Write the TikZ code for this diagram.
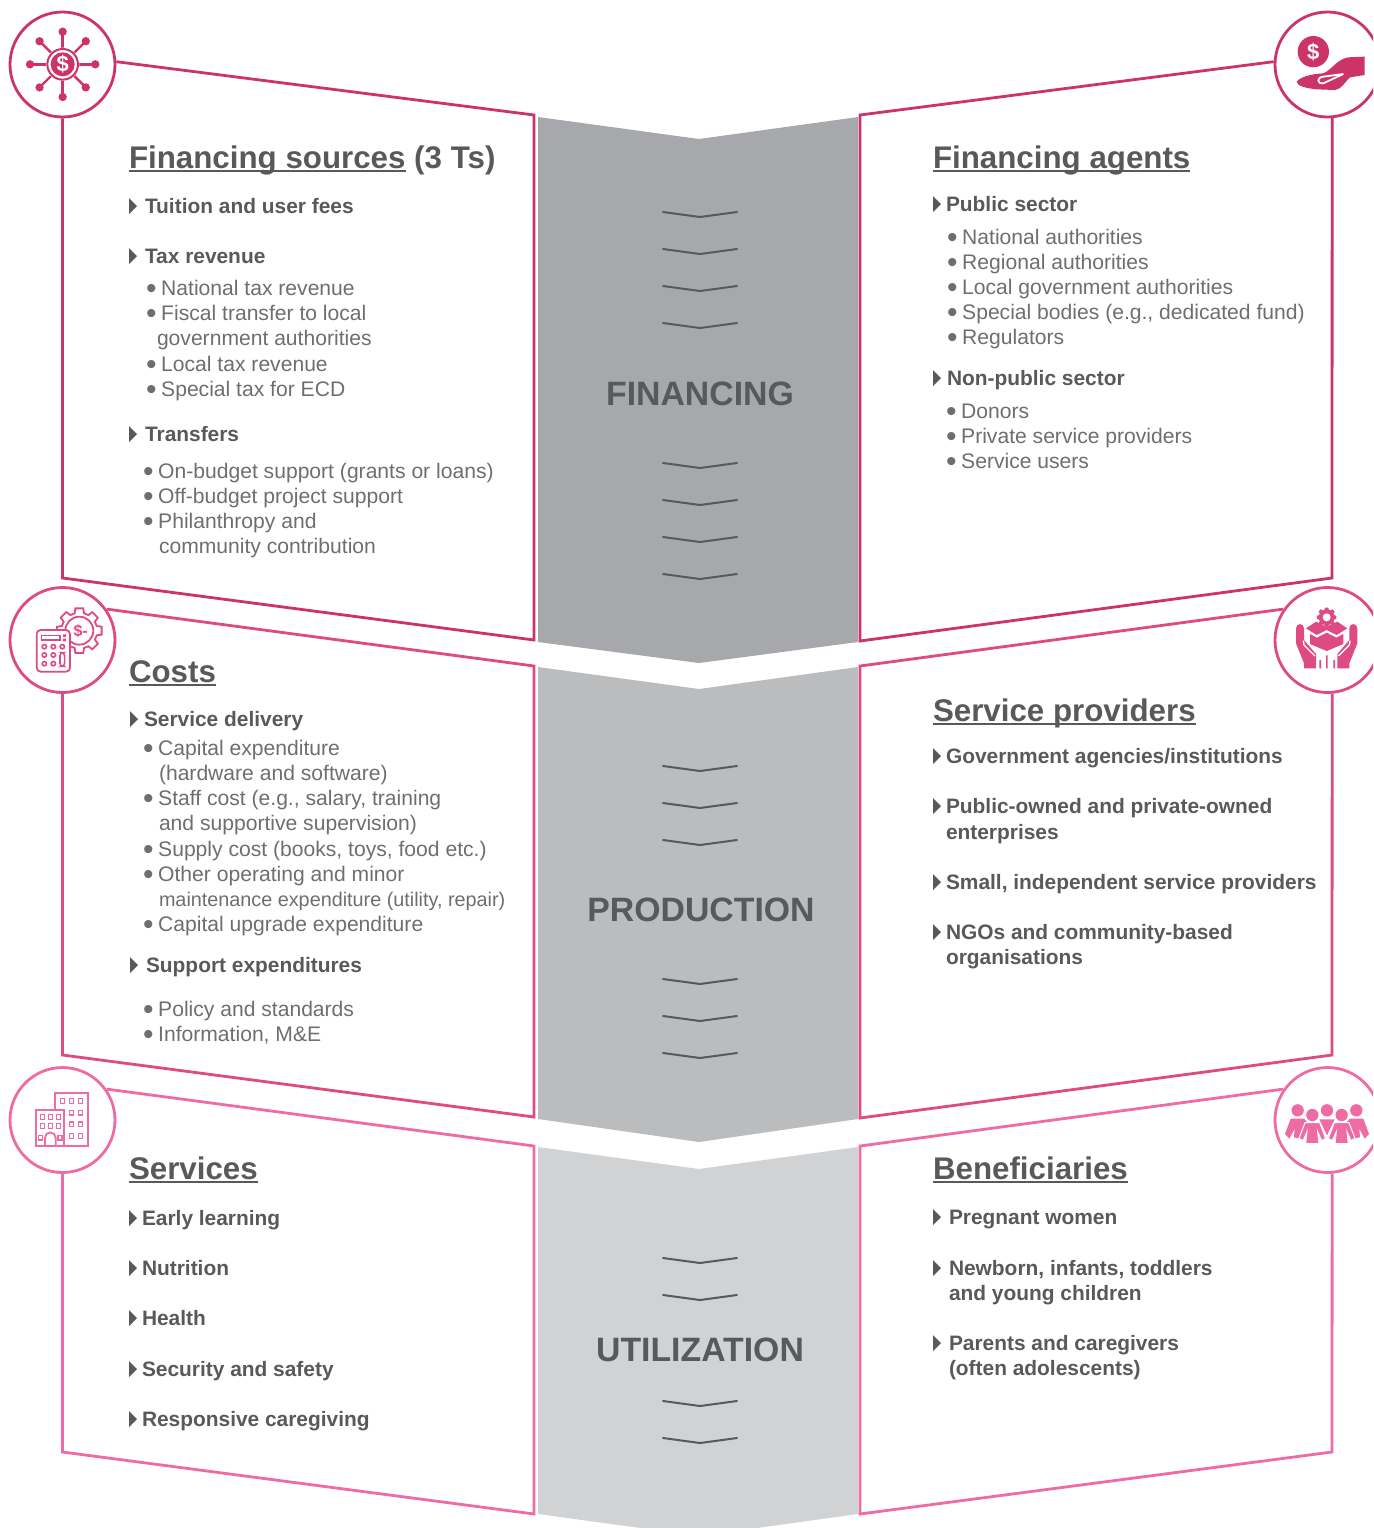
\documentclass[tikz,border=0pt]{standalone}
\usepackage{fontspec}
\setmainfont{Liberation Sans}
\usetikzlibrary{positioning}

\definecolor{pinka}{HTML}{CC3366}
\definecolor{pinkb}{HTML}{DE4A82}
\definecolor{pinkc}{HTML}{EE6CA3}
\definecolor{banda}{HTML}{A7A8AB}
\definecolor{bandb}{HTML}{BBBCBE}
\definecolor{bandc}{HTML}{D1D2D4}
\definecolor{headgray}{HTML}{58595B}
\definecolor{bodygray}{HTML}{6D6E71}

\newcommand{\bul}{\makebox[7.6pt][l]{\raisebox{-1.7pt}[0pt][0pt]{\fontsize{15}{15}\selectfont •}}}
\newcommand{\uln}[1]{\setbox0\hbox{#1}\rlap{\rule[-2.2pt]{\wd0}{1pt}}\box0\relax}

\tikzset{
  txt/.style={anchor=base west,inner sep=0pt,outer sep=0pt},
  title/.style={txt,font=\fontsize{15.65}{18}\selectfont\bfseries,text=headgray},
  lead/.style={txt,font=\fontsize{10.45}{13}\selectfont\bfseries,text=headgray},
  body/.style={txt,font=\fontsize{10.55}{13}\selectfont,text=bodygray},
  bandname/.style={inner sep=0pt,anchor=base,font=\fontsize{16.9}{20}\selectfont\bfseries,text=headgray},
  ring/.style={draw,circle,fill=white,line width=1.4pt,minimum size=52.5pt,inner sep=0pt},
  panel/.style={line width=1.4pt,line join=miter},
  chev/.style={draw=headgray,line width=1pt,line cap=round},
  pics/cogwheel/.style={code={
    \path[pic actions] (-15:54) \foreach \a in {0,45,...,315}{
      -- (\a-15:54) -- (\a-10:68) -- (\a+10:68) -- (\a+15:54)} -- cycle;
  }},
  pics/palm/.style={code={
    \path[pic actions] (108,145) .. controls (108,128) and (132,128) .. (132,145) -- (132,180)
      -- (168,222) -- (168,265) -- (132,265) -- (132,250) -- (108,190) -- cycle;
  }},
}

\begin{document}
\begin{tikzpicture}[x=.5pt,y=-.5pt]

\path[use as bounding box,clip] (0,0) rectangle (1373,1528);

\fill[banda] (538,117) -- (699,139) -- (858,117) -- (858,642) -- (699,663) -- (538,642) -- cycle;
\fill[bandb] (538,667) -- (699,689) -- (858,667) -- (858,1119) -- (699,1142) -- (538,1119) -- cycle;
\fill[bandc] (538,1147) -- (699,1169) -- (858,1147) -- (858,1514) -- (699,1536) -- (538,1514) -- cycle;

\foreach \y in {212,249,286,323,463,500,537,574,766,803,840,979,1016,1053,1258,1295,1401,1438}
  \draw[chev] (663,\y) -- (700,\y+5) -- (737,\y);

\node[bandname] (financing) at (700,405) {FINANCING};
\node[bandname] (production) at (701,921) {PRODUCTION};
\node[bandname] (utilization) at (700,1361) {UTILIZATION};

\node[ring,draw=pinka] (sourcesicon) at (62.5,64.5) {};
\node[ring,draw=pinka] (agentsicon) at (1327.5,64.5) {};
\node[ring,draw=pinkb] (costsicon) at (62.5,640) {};
\node[ring,draw=pinkb] (providersicon) at (1327.5,640) {};
\node[ring,draw=pinkc] (servicesicon) at (62.5,1120) {};
\node[ring,draw=pinkc] (beneficiariesicon) at (1327.5,1120) {};

\draw[panel,draw=pinka] (sourcesicon.south) -- (62.5,578) -- (534,640) -- (534,115) -- (sourcesicon.3);
\draw[panel,draw=pinka] (agentsicon.-85) -- (1332,578) -- (860,641) -- (860,115) -- (agentsicon.177);
\draw[panel,draw=pinkb] (costsicon.south) -- (62.5,1055) -- (534,1117) -- (534,666) -- (costsicon.35);
\draw[panel,draw=pinkb] (providersicon.-85) -- (1332,1055) -- (860,1118) -- (860,666) -- (providersicon.145);
\draw[panel,draw=pinkc] (servicesicon.south) -- (62.5,1452) -- (534,1514) -- (534,1146) -- (servicesicon.35);
\draw[panel,draw=pinkc] (beneficiariesicon.-85) -- (1332,1452) -- (860,1514) -- (860,1146) -- (beneficiariesicon.145);

\begin{scope}[shift={(0,0)},scale=.3333]
\foreach \a in {0,45,...,315} {
  \draw[pinka,line width=1.2pt] (188,193) -- ++(\a:98);
  \fill[pinka] (188,193) ++(\a:98) circle (12.5);
}
\fill[white] (188,193) circle (50);
\draw[pinka,line width=1pt] (188,193) circle (46);
\fill[pinka] (188,193) circle (36);
\node[inner sep=0pt,text=white,font=\fontsize{11}{11}\selectfont\bfseries] (sourcesdollar) at (188,193) {\$};
\end{scope}

\begin{scope}[shift={(1260,0)},scale=.3333]
\fill[pinka] (160,155) circle (47);
\node[inner sep=0pt,text=white,font=\fontsize{11}{11}\selectfont\bfseries] (agentsdollar) at (160,155) {\$};
\fill[pinka] (110,245) .. controls (120,232) and (150,222) .. (190,220) .. controls (215,210) and (230,178) .. (265,172)
  -- (314,170) -- (314,225) -- (270,232) .. controls (255,245) and (245,268) .. (225,270)
  -- (170,268) .. controls (140,265) and (110,258) .. (110,245) -- cycle;
\draw[white,line width=.9pt] (250,222) -- (190,250) .. controls (170,252) and (170,232) .. (190,230) -- (250,222);
\end{scope}

\begin{scope}[shift={(0,580)},scale=.3333]
\pic[transform shape,draw=pinkb,line width=.9pt,fill=white] at (238,152) {cogwheel};
\draw[pinkb,line width=.9pt] (238,152) circle (42);
\node[inner sep=0pt,text=pinkb,font=\fontsize{8}{8}\selectfont\bfseries] (costsdollar) at (242,152) {\$-};
\draw[pinkb,line width=.9pt,fill=white,rounded corners=2pt] (110,150) rectangle (210,275);
\draw[pinkb,line width=.8pt] (125,166) rectangle (180,180);
\fill[pinkb] (189,163) rectangle (198,171) (189,176) rectangle (198,184);
\foreach \x/\y in {133/200,160/200,187/200,133/225,160/225,133/251,160/251}
  \draw[pinkb,line width=.8pt] (\x,\y) circle (6.5);
\draw[pinkb,line width=.8pt,rounded corners=1.5pt] (180,218) rectangle (194,259);
\end{scope}

\begin{scope}[shift={(1260,580)},scale=.3333]
\pic[transform shape,fill=pinkb,scale=.44] at (200,112) {cogwheel};
\fill[white] (200,112) circle (12);
\fill[pinkb] (138,145) -- (168,125) -- (200,140) -- (232,125) -- (262,145) -- (230,165) -- (200,150) -- (170,165) -- cycle;
\fill[pinkb] (150,162) -- (171,173) -- (200,158) -- (229,173) -- (250,162) -- (250,192) -- (200,213) -- (150,192) -- cycle;
\pic[transform shape,fill=pinkb] at (0,0) {palm};
\pic[transform shape,fill=pinkb,xscale=-1] at (400,0) {palm};
\draw[white,line width=.7pt] (130,182) -- (132,195) -- (165,228);
\draw[white,line width=.7pt] (270,182) -- (268,195) -- (235,228);
\fill[pinkb] (178,240) rectangle (183,265) (198,226) rectangle (203,265) (220,240) rectangle (225,265);
\end{scope}

\begin{scope}[shift={(0,1060)},scale=.3333]
\draw[pinkc,line width=.9pt] (165,100) rectangle (263,257);
\draw[pinkc,line width=.9pt,fill=white] (107,150) rectangle (193,257);
\foreach \x/\y in {187/123,214/123,241/123,214/158,241/158,214/193,241/193,214/228,241/228,127/171,151/171,175/171,127/198,151/198,175/198,122/233,180/233}
  \draw[pinkc,line width=.8pt] (\x-6,\y-7) rectangle (\x+6,\y+7);
\draw[pinkc,line width=.9pt] (135,257) -- (135,233) arc (180:360:16) -- (167,257);
\end{scope}

\begin{scope}[shift={(1260,1060)},scale=.3333]
\foreach \x in {113,201,289}
  \fill[pinkc] (\x,151) circle (18.5);
\foreach \x in {157,245}
  \fill[pinkc] (\x,165) circle (18.5);
\fill[pinkc] (92,176) -- (132,176) -- (150,195) -- (125,236) -- (102,232) -- (104,206) -- (88,236) -- (75,222) -- cycle;
\fill[pinkc] (310,176) -- (270,176) -- (252,195) -- (277,236) -- (300,232) -- (298,206) -- (314,236) -- (327,222) -- cycle;
\fill[pinkc] (178,178) -- (224,178) -- (201,226) -- cycle;
\foreach \x in {157,245}
  \draw[white,fill=pinkc,line width=.5pt] (\x-22,188) -- (\x+22,188) -- (\x+40,235) -- (\x+28,242) -- (\x+16,215) -- (\x+20,251) -- (\x-20,251) -- (\x-16,215) -- (\x-28,242) -- (\x-40,235) -- cycle;
\end{scope}

\foreach \x/\y in {129/206,129/256,129/434,933/204,933/378,130/719,130/965,933/756,933/806,933/882,933/932,129/1218,129/1268,129/1318,129/1369,129/1419,933/1217,933/1268,933/1343}
  \fill[headgray] (\x,\y-8) -- (\x+8,\y) -- (\x,\y+8) -- cycle;

\node[title] (sources) at (129,168) {\uln{Financing sources} (3 Ts)};
\node[lead] (tuition) at (145,213) {Tuition and user fees};
\node[lead] (tax) at (145,263) {Tax revenue};
\node[body] (taxa) at (146,295) {\bul National tax revenue};
\node[body] (taxb) at (146,320) {\bul Fiscal transfer to local};
\node[body] (taxc) at (157,345) {government authorities};
\node[body] (taxd) at (146,371) {\bul Local tax revenue};
\node[body] (taxe) at (146,396) {\bul Special tax for ECD};
\node[lead] (transfers) at (145,441) {Transfers};
\node[body] (transa) at (143,478) {\bul On-budget support (grants or loans)};
\node[body] (transb) at (143,503) {\bul Off-budget project support};
\node[body] (transc) at (143,528) {\bul Philanthropy and};
\node[body] (transd) at (159,553) {community contribution};

\node[title] (agents) at (933,168) {\uln{Financing agents}};
\node[lead] (public) at (946,211) {Public sector};
\node[body] (puba) at (947,244) {\bul National authorities};
\node[body] (pubb) at (947,269) {\bul Regional authorities};
\node[body] (pubc) at (947,294) {\bul Local government authorities};
\node[body] (pubd) at (947,319) {\bul Special bodies (e.g., dedicated fund)};
\node[body] (pube) at (947,344) {\bul Regulators};
\node[lead] (nonpublic) at (947,385) {Non-public sector};
\node[body] (nona) at (946,418) {\bul Donors};
\node[body] (nonb) at (946,443) {\bul Private service providers};
\node[body] (nonc) at (946,468) {\bul Service users};

\node[title] (costs) at (129,682) {\uln{Costs}};
\node[lead] (delivery) at (144,726) {Service delivery};
\node[body] (dela) at (143,755) {\bul Capital expenditure};
\node[body] (delb) at (159,780) {(hardware and software)};
\node[body] (delc) at (143,805) {\bul Staff cost (e.g., salary, training};
\node[body] (deld) at (159,830) {and supportive supervision)};
\node[body] (dele) at (143,856) {\bul Supply cost (books, toys, food etc.)};
\node[body] (delf) at (143,881) {\bul Other operating and minor};
\node[body,font=\fontsize{9.9}{13}\selectfont] (delg) at (159,906) {maintenance expenditure (utility, repair)};
\node[body] (delh) at (143,931) {\bul Capital upgrade expenditure};
\node[lead] (support) at (146,972) {Support expenditures};
\node[body] (supa) at (143,1016) {\bul Policy and standards};
\node[body] (supb) at (143,1041) {\bul Information, M\&E};

\node[title] (providers) at (933,721) {\uln{Service providers}};
\node[lead] (prova) at (946,763) {Government agencies/institutions};
\node[lead] (provb) at (946,813) {Public-owned and private-owned};
\node[lead] (provc) at (946,839) {enterprises};
\node[lead] (provd) at (946,889) {Small, independent service providers};
\node[lead] (prove) at (946,939) {NGOs and community-based};
\node[lead] (provf) at (946,964) {organisations};

\node[title] (services) at (129,1179) {\uln{Services}};
\node[lead] (serva) at (142,1225) {Early learning};
\node[lead] (servb) at (142,1275) {Nutrition};
\node[lead] (servc) at (142,1325) {Health};
\node[lead] (servd) at (142,1376) {Security and safety};
\node[lead] (serve) at (142,1426) {Responsive caregiving};

\node[title] (beneficiaries) at (933,1179) {\uln{Beneficiaries}};
\node[lead] (bena) at (949,1224) {Pregnant women};
\node[lead] (benb) at (949,1275) {Newborn, infants, toddlers};
\node[lead] (benc) at (949,1300) {and young children};
\node[lead] (bend) at (949,1350) {Parents and caregivers};
\node[lead] (bene) at (949,1375) {(often adolescents)};

\end{tikzpicture}
\end{document}
